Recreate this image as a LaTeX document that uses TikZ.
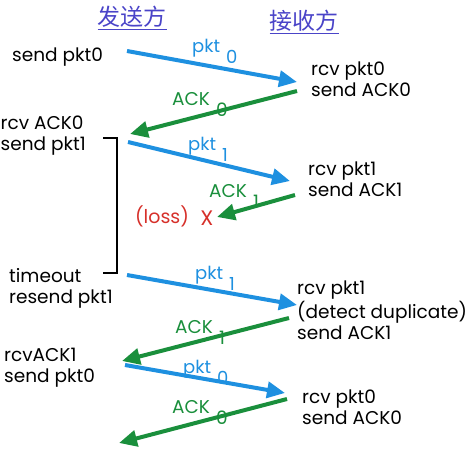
\documentclass[tikz,border=0pt]{standalone}
\usepackage{fontspec}
\setmainfont{Poppins}
\newfontfamily\cjk{Noto Sans CJK SC}
\usepackage{xcolor}
\definecolor{cPkt}{HTML}{1E90E0}
\definecolor{cAck}{HTML}{1A8F3C}
\definecolor{cLoss}{HTML}{D6302A}
\definecolor{cHead}{HTML}{4A44C8}
\usepackage{tikz}
\usetikzlibrary{arrows.meta}
\tikzset{
  ev-text/.style={anchor=base west,align=left,inner sep=0pt,
    font=\fontsize{18.5}{21}\selectfont},
  head-text/.style={inner sep=0pt,text=cHead,font=\cjk\fontsize{23}{23}\selectfont},
  msg-pkt/.style={-{Triangle[length=18pt,width=16pt]},line width=4pt,draw=cPkt},
  msg-ack/.style={-{Triangle[length=18pt,width=16pt]},line width=4pt,draw=cAck},
  lbl-pkt/.style={anchor=base west,inner sep=0pt,text=cPkt,font=\fontsize{18}{18}\selectfont},
  lbl-ack/.style={anchor=base west,inner sep=0pt,text=cAck,font=\fontsize{18.5}{18}\selectfont},
  lbl-loss/.style={inner sep=0pt,text=cLoss,font=\fontsize{19}{19}\selectfont},
  timer/.style={line width=2pt,draw=black},
}
\newcommand{\msglbl}[2]{#1\hspace{6pt}\raisebox{-11pt}{#2}}

\begin{document}
\begin{tikzpicture}[x=1pt,y=-1pt]
  \useasboundingbox (0,0) rectangle (476,476);
  % headings
  \node[head-text] (snd) at (132,18) {\underline{发送方}};
  \node[head-text] (rcv) at (304,22) {\underline{接收方}};
  % sender events (base = last line)
  \node[ev-text] (s1) at (12,62)  {send pkt0};
  \node[ev-text] (s2) at (0.5,150) {rcv ACK0\\send pkt1};
  \node[ev-text] (s3) at (9,303)  {timeout\\resend pkt1};
  \node[ev-text] (s4) at (4,382)  {rcvACK1\\send pkt0};
  % receiver events
  \node[ev-text] (r1) at (311,97)  {rcv pkt0\\send ACK0};
  \node[ev-text] (r2) at (308,196) {rcv pkt1\\send ACK1};
  \node[ev-text] (r3) at (297,339) {rcv pkt1\\(detect duplicate)\\send ACK1};
  \node[ev-text] (r4) at (302,424) {rcv pkt0\\send ACK0};
  % loss
  \node[lbl-loss] (loss) at (162,216) {(loss)};
  \node[lbl-loss,font=\fontsize{21}{21}\selectfont] (lx) at (207,218) {X};
  % message end points
  \coordinate (p1a) at (127,51);  \coordinate (p1b) at (297,82);
  \coordinate (a1a) at (297,91);  \coordinate (a1b) at (130,134);
  \coordinate (p2a) at (128,142); \coordinate (p2b) at (290,181);
  \coordinate (a2a) at (295,195); \coordinate (a2b) at (217,217);
  \coordinate (p3a) at (127,275); \coordinate (p3b) at (297,305);
  \coordinate (a3a) at (289,318); \coordinate (a3b) at (122,361);
  \coordinate (p4a) at (125,365); \coordinate (p4b) at (285,393);
  \coordinate (a4a) at (287,399); \coordinate (a4b) at (119,443);
  % messages
  \draw[msg-pkt] (p1a) -- (p1b);
  \draw[msg-ack] (a1a) -- (a1b);
  \draw[msg-pkt] (p2a) -- (p2b);
  \draw[msg-ack] (a2a) -- (a2b);
  \draw[msg-pkt] (p3a) -- (p3b);
  \draw[msg-ack] (a3a) -- (a3b);
  \draw[msg-pkt] (p4a) -- (p4b);
  \draw[msg-ack] (a4a) -- (a4b);
  % message labels
  \node[lbl-pkt] (lp1) at (192,53)  {\msglbl{pkt}{0}};
  \node[lbl-ack] (la1) at (172,106) {\msglbl{ACK}{0}};
  \node[lbl-pkt] (lp2) at (188,150) {\msglbl{pkt}{1}};
  \node[lbl-ack] (la2) at (209,197) {\msglbl{ACK}{1}};
  \node[lbl-pkt] (lp3) at (195,279) {\msglbl{pkt}{1}};
  \node[lbl-ack] (la3) at (175,333) {\msglbl{ACK}{1}};
  \node[lbl-pkt] (lp4) at (183,373) {\msglbl{pkt}{0}};
  \node[lbl-ack] (la4) at (172,413) {\msglbl{ACK}{0}};
  % timer
  \coordinate (tt) at (103,138);
  \coordinate (tb) at (103,273);
  \draw[timer] (tt) -- ++(14,0) |- (tb);
\end{tikzpicture}
\end{document}
